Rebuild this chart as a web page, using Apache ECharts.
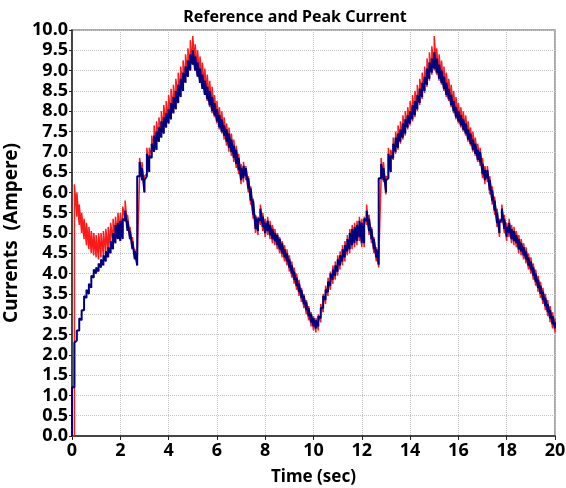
<!DOCTYPE html>
<html>
<head>
<meta charset="utf-8">
<script src="https://cdn.jsdelivr.net/npm/echarts@6/dist/echarts.min.js"></script>
<style>
  html, body { margin: 0; padding: 0; background: #fff; }
  #chart { width: 566px; height: 488px; }
</style>
</head>
<body>
<div id="chart"></div>
<script>
// Sampling interval of the recorded currents (seconds)
const sampleStep = 0.1;

// Reference current envelope (A), one low/high pair per sample, 0 .. 20 s
const refLow = [
  0, 1.2, 2.35, 2.6, 2.85, 3.1, 3.4, 3.5, 3.65, 3.9,
  4.0, 4.05, 4.15, 4.2, 4.3, 4.4, 4.5, 4.6, 4.75, 4.85,
  4.8, 4.85, 5.3, 5.05, 4.85, 4.6, 4.35, 4.2, 6.4, 6.3,
  6.0, 6.4, 6.5, 6.85, 7.0, 7.05, 7.25, 7.35, 7.45, 7.6,
  7.7, 7.8, 7.95, 8.05, 8.2, 8.35, 8.5, 8.7, 8.85, 9.0,
  9.15, 9.0, 8.85, 8.7, 8.55, 8.4, 8.3, 8.15, 8.0, 7.9,
  7.75, 7.6, 7.5, 7.4, 7.25, 7.1, 7.0, 6.85, 6.7, 6.55,
  6.3, 6.35, 6.4, 6.1, 5.8, 5.45, 5.1, 5.05, 5.3, 5.15,
  5.0, 5.05, 4.95, 4.85, 4.8, 4.7, 4.6, 4.5, 4.4, 4.3,
  4.15, 4.0, 3.85, 3.7, 3.55, 3.4, 3.25, 3.1, 2.95, 2.8,
  2.7, 2.65, 2.7, 2.9, 3.15, 3.35, 3.55, 3.7, 3.85, 3.95,
  4.05, 4.2, 4.3, 4.4, 4.55, 4.6, 4.7, 4.75, 4.8, 4.9,
  4.75, 4.75, 5.3, 5.05, 4.85, 4.6, 4.4, 4.22, 6.35, 6.3,
  6.0, 6.35, 6.5, 6.85, 7.0, 7.1, 7.25, 7.35, 7.45, 7.6,
  7.7, 7.8, 7.9, 8.05, 8.2, 8.35, 8.5, 8.65, 8.8, 8.95,
  9.05, 8.95, 8.8, 8.7, 8.55, 8.4, 8.3, 8.15, 8.0, 7.85,
  7.75, 7.65, 7.55, 7.45, 7.3, 7.2, 7.05, 6.95, 6.8, 6.75,
  6.45, 6.3, 6.35, 6.05, 5.8, 5.55, 5.25, 5.0, 5.35, 5.1,
  4.9, 5.0, 4.85, 4.8, 4.75, 4.6, 4.55, 4.45, 4.35, 4.2,
  4.1, 3.95, 3.8, 3.65, 3.5, 3.35, 3.2, 3.05, 2.9, 2.75,
  2.65
];
const refHigh = [
  1.2, 2.3, 2.6, 2.9, 3.1, 3.45, 3.6, 3.75, 3.95, 4.1,
  4.15, 4.25, 4.35, 4.45, 4.55, 4.65, 4.8, 5.0, 5.2, 5.25,
  5.3, 5.35, 5.55, 5.3, 5.05, 4.8, 4.55, 6.4, 6.75, 6.6,
  6.3, 6.95, 6.9, 7.2, 7.4, 7.5, 7.6, 7.75, 7.85, 7.95,
  8.05, 8.2, 8.35, 8.5, 8.65, 8.8, 8.95, 9.1, 9.25, 9.4,
  9.5, 9.35, 9.2, 9.05, 8.9, 8.75, 8.6, 8.5, 8.35, 8.2,
  8.05, 7.9, 7.8, 7.65, 7.55, 7.45, 7.3, 7.15, 7.05, 6.85,
  6.6, 6.65, 6.6, 6.35, 6.1, 5.8, 5.4, 5.35, 5.6, 5.4,
  5.25, 5.3, 5.2, 5.1, 5.0, 4.95, 4.85, 4.75, 4.6, 4.5,
  4.35, 4.2, 4.05, 3.9, 3.75, 3.6, 3.45, 3.3, 3.15, 3.0,
  2.9, 2.85, 2.95, 3.15, 3.45, 3.6, 3.8, 4.0, 4.1, 4.2,
  4.35, 4.45, 4.6, 4.7, 4.85, 5.0, 5.1, 5.15, 5.2, 5.3,
  5.25, 5.35, 5.55, 5.35, 5.1, 4.85, 4.6, 6.35, 6.7, 6.6,
  6.3, 6.95, 6.9, 7.2, 7.35, 7.45, 7.55, 7.7, 7.8, 7.9,
  8.0, 8.15, 8.25, 8.4, 8.55, 8.7, 8.85, 9.05, 9.2, 9.3,
  9.45, 9.3, 9.15, 9.0, 8.85, 8.7, 8.55, 8.4, 8.25, 8.1,
  8.0, 7.9, 7.8, 7.7, 7.55, 7.45, 7.3, 7.2, 7.05, 7.0,
  6.7, 6.55, 6.55, 6.3, 6.05, 5.8, 5.5, 5.25, 5.6, 5.35,
  5.15, 5.25, 5.1, 5.05, 4.95, 4.85, 4.75, 4.65, 4.55, 4.4,
  4.3, 4.15, 4.0, 3.85, 3.7, 3.55, 3.4, 3.25, 3.1, 2.95,
  2.8
];

// Peak current envelope (A), same sampling
const peakLow = [
  0, 0, 5.4, 5.2, 5.0, 4.85, 4.7, 4.6, 4.5, 4.45,
  4.4, 4.35, 4.4, 4.45, 4.5, 4.55, 4.65, 4.75, 4.85, 4.9,
  4.9, 5.0, 5.35, 5.1, 4.9, 4.65, 4.4, 4.25, 6.4, 6.3,
  6.0, 6.45, 6.55, 6.9, 7.0, 7.05, 7.25, 7.35, 7.45, 7.6,
  7.7, 7.8, 7.95, 8.05, 8.2, 8.35, 8.5, 8.7, 8.85, 9.0,
  9.15, 9.0, 8.85, 8.7, 8.55, 8.4, 8.25, 8.1, 7.95, 7.85,
  7.7, 7.55, 7.45, 7.3, 7.15, 7.0, 6.9, 6.75, 6.6, 6.45,
  6.2, 6.25, 6.3, 6.0, 5.7, 5.35, 5.0, 4.95, 5.2, 5.05,
  4.9, 4.95, 4.85, 4.75, 4.7, 4.6, 4.5, 4.4, 4.3, 4.2,
  4.05, 3.9, 3.75, 3.6, 3.45, 3.3, 3.15, 3.0, 2.85, 2.7,
  2.6, 2.55, 2.6, 2.8, 3.05, 3.25, 3.45, 3.6, 3.75, 3.85,
  3.95, 4.1, 4.2, 4.3, 4.45, 4.5, 4.6, 4.65, 4.7, 4.8,
  4.65, 4.65, 5.2, 4.95, 4.75, 4.5, 4.3, 4.15, 6.35, 6.25,
  5.95, 6.35, 6.5, 6.8, 6.95, 7.05, 7.2, 7.3, 7.4, 7.55,
  7.65, 7.75, 7.85, 8.0, 8.15, 8.3, 8.45, 8.6, 8.75, 8.9,
  9.0, 8.9, 8.75, 8.65, 8.5, 8.35, 8.25, 8.1, 7.95, 7.8,
  7.7, 7.6, 7.5, 7.4, 7.25, 7.15, 7.0, 6.9, 6.75, 6.65,
  6.35, 6.2, 6.25, 5.95, 5.7, 5.45, 5.15, 4.9, 5.25, 5.0,
  4.8, 4.9, 4.75, 4.7, 4.65, 4.5, 4.45, 4.35, 4.25, 4.1,
  4.0, 3.85, 3.7, 3.55, 3.4, 3.25, 3.1, 2.95, 2.8, 2.65,
  2.55
];
const peakHigh = [
  0, 6.2, 6.0, 5.7, 5.5, 5.35, 5.25, 5.15, 5.05, 5.0,
  4.95, 5.0, 5.0, 5.05, 5.1, 5.15, 5.25, 5.35, 5.4, 5.5,
  5.5, 5.65, 5.8, 5.45, 5.15, 4.9, 4.6, 4.35, 6.85, 6.75,
  6.4, 7.1, 7.1, 7.4, 7.65, 7.75, 7.85, 8.0, 8.15, 8.25,
  8.4, 8.55, 8.65, 8.8, 8.95, 9.1, 9.25, 9.4, 9.55, 9.75,
  9.85, 9.65, 9.5, 9.35, 9.2, 9.05, 8.9, 8.75, 8.6, 8.4,
  8.25, 8.1, 8.0, 7.85, 7.7, 7.6, 7.45, 7.3, 7.15, 6.95,
  6.7, 6.75, 6.65, 6.4, 6.15, 5.85, 5.45, 5.4, 5.7, 5.5,
  5.35, 5.4, 5.3, 5.2, 5.1, 5.0, 4.9, 4.8, 4.7, 4.6,
  4.45, 4.3, 4.15, 4.0, 3.85, 3.65, 3.5, 3.35, 3.2, 3.05,
  2.95, 2.9, 3.0, 3.25, 3.5, 3.7, 3.9, 4.05, 4.2, 4.3,
  4.45, 4.55, 4.7, 4.8, 4.95, 5.1, 5.2, 5.25, 5.3, 5.4,
  5.35, 5.4, 5.7, 5.45, 5.15, 4.9, 4.65, 4.3, 6.85, 6.75,
  6.4, 7.1, 7.05, 7.35, 7.5, 7.65, 7.75, 7.9, 8.0, 8.1,
  8.25, 8.4, 8.5, 8.65, 8.8, 8.95, 9.1, 9.3, 9.45, 9.6,
  9.85, 9.55, 9.4, 9.25, 9.1, 8.95, 8.8, 8.65, 8.5, 8.35,
  8.2, 8.1, 8.0, 7.9, 7.75, 7.6, 7.5, 7.35, 7.2, 7.1,
  6.85, 6.65, 6.65, 6.4, 6.15, 5.9, 5.6, 5.35, 5.7, 5.45,
  5.25, 5.35, 5.2, 5.15, 5.05, 4.95, 4.85, 4.75, 4.65, 4.5,
  4.4, 4.25, 4.1, 3.95, 3.8, 3.65, 3.5, 3.35, 3.2, 3.05,
  2.9
];

// Axis ranges and tick spacing
const timeRange = [0, 20];
const timeTickStep = 2;
const currentRange = [0, 10];
const currentTickStep = 0.5;

// Each sample is drawn as a stroke from its low to its high value,
// which renders the ripple of the switching current as a jagged band.
function rippleTrace(low, high) {
  const pts = [];
  for (let i = 0; i < low.length; i++) {
    const t = +(i * sampleStep).toFixed(2);
    pts.push([t, low[i]]);
    pts.push([t, high[i]]);
  }
  return pts;
}

const FONT = 'Noto Sans';
const chart = echarts.init(document.getElementById('chart'), null, { renderer: 'canvas' });

chart.setOption({
  animation: false,
  backgroundColor: '#ffffff',
  title: {
    text: 'Reference and Peak Current',
    left: 290,
    top: 4,
    textAlign: 'center',
    textStyle: { fontFamily: FONT, fontWeight: 'bold', fontSize: 16, color: '#000' }
  },
  grid: {
    left: 72, right: 11, top: 30, bottom: 52,
    outerBoundsMode: 'none',
    containLabel: false,
    show: true, borderColor: '#8c8c8c', borderWidth: 1.5, backgroundColor: 'transparent'
  },
  xAxis: {
    type: 'value',
    min: timeRange[0], max: timeRange[1], interval: timeTickStep,
    name: 'Time (sec)', nameLocation: 'middle', nameGap: 33,
    nameTextStyle: { fontFamily: FONT, fontWeight: 'bold', fontSize: 17, color: '#000' },
    axisLine: { show: true, lineStyle: { color: '#222', width: 1.5 } },
    axisTick: { show: true, inside: false, length: 4, lineStyle: { color: '#222' } },
    axisLabel: { fontFamily: FONT, fontWeight: 'bold', fontSize: 18, color: '#000', margin: 6 },
    splitLine: { show: true, lineStyle: { color: '#c4c4c4', type: [1, 1], width: 1 } }
  },
  yAxis: {
    type: 'value',
    min: currentRange[0], max: currentRange[1], interval: currentTickStep,
    name: 'Currents  (Ampere)', nameLocation: 'middle', nameGap: 46,
    nameTextStyle: { fontFamily: FONT, fontWeight: 'bold', fontSize: 19, color: '#000' },
    axisLine: { show: true, lineStyle: { color: '#222', width: 1.5 } },
    axisTick: { show: true, inside: false, length: 3, lineStyle: { color: '#222' } },
    axisLabel: {
      fontFamily: FONT, fontWeight: 'bold', fontSize: 18, color: '#000', margin: 4,
      formatter: v => v.toFixed(1)
    },
    splitLine: { show: true, lineStyle: { color: '#c4c4c4', type: [1, 1], width: 1 } }
  },
  series: [
    {
      name: 'Peak Current',
      type: 'line',
      data: rippleTrace(peakLow, peakHigh),
      showSymbol: false,
      lineStyle: { color: '#ff1a1a', width: 1.5 },
      z: 2
    },
    {
      name: 'Reference Current',
      type: 'line',
      data: rippleTrace(refLow, refHigh),
      showSymbol: false,
      lineStyle: { color: '#000080', width: 2 },
      z: 3
    }
  ]
});
</script>
</body>
</html>
